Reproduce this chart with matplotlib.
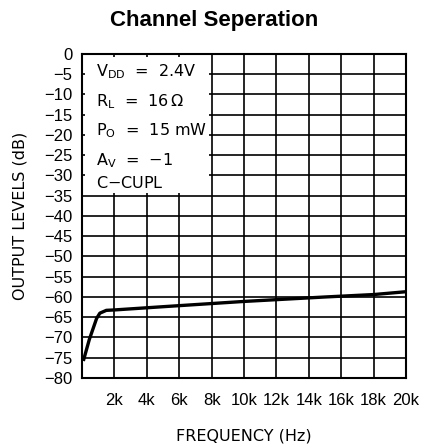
import matplotlib
matplotlib.use("Agg")
import matplotlib.pyplot as plt
from matplotlib.patches import Rectangle

# curve (frequency in Hz, level in dB)
freq = [80, 450, 900, 1100, 1500, 2000, 5000, 10000, 15000, 18000, 20000]
level = [-75.8, -70.5, -65.3, -64.0, -63.3, -63.2, -62.4, -61.1, -60.0, -59.4, -58.7]

x_ticks = [2000, 4000, 6000, 8000, 10000, 12000, 14000, 16000, 18000, 20000]
x_labels = ["2k", "4k", "6k", "8k", "10k", "12k", "14k", "16k", "18k", "20k"]
y_ticks = list(range(0, -85, -5))

cond_lines = [r"V$_{\mathrm{DD}}$  =  2.4V",
              r"R$_{\mathrm{L}}$  =  16$\,\Omega$",
              r"P$_{\mathrm{O}}$  =  15 mW",
              r"A$_{\mathrm{V}}$  =  $-$1",
              "C$-$CUPL"]
cond_y = [-5.6, -12.8, -20.2, -27.6, -33.0]

plt.rcParams['mathtext.fontset'] = 'custom'
plt.rcParams['mathtext.rm'] = 'DejaVu Sans'
plt.rcParams['mathtext.it'] = 'DejaVu Sans'

fig = plt.figure(figsize=(4.23, 4.46), dpi=100)
ax = fig.add_axes([0.1939, 0.1525, 0.7660, 0.7265])

ax.set_xlim(0, 20000)
ax.set_ylim(-80, 0)
ax.set_xticks(x_ticks)
ax.set_xticklabels(x_labels, fontfamily='Liberation Sans', fontsize=12)
ax.set_yticks(y_ticks)
ax.set_yticklabels([str(v).replace('-', '\u2212') for v in y_ticks],
                   fontfamily='Liberation Sans', fontsize=12)
ax.tick_params(axis='x', length=0, pad=11)
ax.tick_params(axis='y', length=0, pad=7)

ax.set_axisbelow(True)
ax.grid(True, color='black', linewidth=1.2)
for s in ax.spines.values():
    s.set_linewidth(1.5)

# white box for the test conditions (grid stubs left showing at its edges)
ax.add_patch(Rectangle((160, -35 + 0.7), 8000 - 320, 35 - 1.4,
                       facecolor='white', edgecolor='none', zorder=1))
for txt, yy in zip(cond_lines, cond_y):
    ax.text(850, yy, txt, fontsize=11.5, fontfamily='DejaVu Sans',
            va='baseline', ha='left', zorder=3)

ax.plot(freq, level, color='black', linewidth=2.4, solid_capstyle='butt', zorder=2)

fig.text(0.577, 0.023, 'FREQUENCY (Hz)', fontfamily='DejaVu Sans', fontsize=11.5,
         ha='center', va='center')
fig.text(0.047, 0.516, 'OUTPUT LEVELS (dB)', fontfamily='DejaVu Sans', fontsize=11.5,
         ha='center', va='center', rotation=90)

fig.text(0.506, 0.955, 'Channel Seperation', fontfamily='Liberation Sans',
         fontweight='bold', fontsize=16, ha='center', va='center')

fig.savefig('out.png', dpi=100)
